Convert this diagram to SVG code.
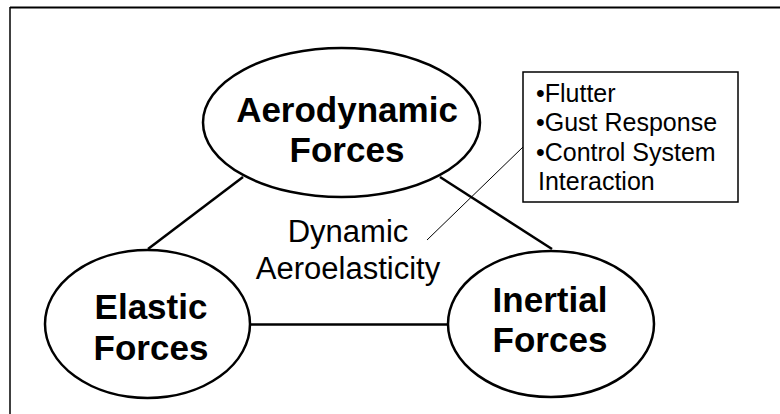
<svg xmlns="http://www.w3.org/2000/svg" width="780" height="414" viewBox="0 0 780 414">
<style>
.node{fill:#fff;stroke:#000;stroke-width:2.5}
.bold{font-family:"Liberation Sans",Arial,sans-serif;font-weight:bold;font-size:35px;text-anchor:middle;fill:#000}
.reg{font-family:"Liberation Sans",Arial,sans-serif;font-size:31px;text-anchor:middle;fill:#000}
.box{font-family:"Liberation Sans",Arial,sans-serif;font-size:25px;fill:#000}
.conn{stroke:#000;stroke-width:2.5;fill:none}
</style>
<rect width="780" height="414" fill="#fff"/>
<g id="frame" stroke="#000" fill="none">
<line x1="10" y1="7.5" x2="780" y2="7.5" stroke-width="2"/>
<line x1="10" y1="7" x2="10" y2="414" stroke-width="1.5"/>
</g>
<g id="connectors">
<line class="conn" x1="243" y1="177" x2="148" y2="249"/>
<line class="conn" x1="440" y1="177" x2="552" y2="249"/>
<line class="conn" x1="250" y1="324.5" x2="448" y2="324.5"/>
<line x1="427" y1="240" x2="523" y2="147" stroke="#000" stroke-width="1"/>
</g>
<g id="aerodynamic">
<ellipse class="node" cx="341.5" cy="122.5" rx="138.5" ry="74.5"/>
<text class="bold" x="347" y="122">Aerodynamic</text>
<text class="bold" x="347" y="162">Forces</text>
</g>
<g id="elastic">
<ellipse class="node" cx="147.5" cy="324" rx="102.5" ry="74"/>
<text class="bold" x="151" y="319">Elastic</text>
<text class="bold" x="151" y="360">Forces</text>
</g>
<g id="inertial">
<ellipse class="node" cx="551" cy="324" rx="103" ry="73"/>
<text class="bold" x="550" y="312">Inertial</text>
<text class="bold" x="550" y="352">Forces</text>
</g>
<g id="center-label">
<text class="reg" x="348" y="242">Dynamic</text>
<text class="reg" x="348" y="279">Aeroelasticity</text>
</g>
<g id="examples">
<rect x="523" y="72" width="215" height="130" fill="#fff" stroke="#000" stroke-width="1.5"/>
<text class="box" x="536" y="102">•Flutter</text>
<text class="box" x="536" y="131">•Gust Response</text>
<text class="box" x="536" y="161">•Control System</text>
<text class="box" x="538" y="190">Interaction</text>
</g>
</svg>
